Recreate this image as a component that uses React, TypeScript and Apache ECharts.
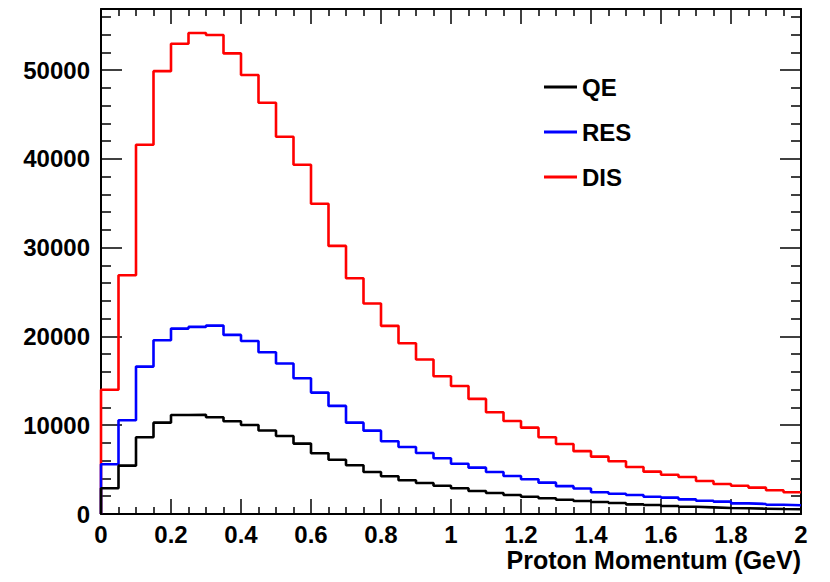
import React, { useEffect, useRef } from "react";
import * as echarts from "echarts";

// Histogram bin contents, 40 bins of 0.05 GeV from 0 to 2 GeV
const QE = [2900, 5450, 8650, 10290, 11160, 11190, 10900, 10450, 10030, 9400, 8790, 7930, 6840, 6120, 5490, 4730, 4250, 3800, 3490, 3190, 2900, 2590, 2370, 2140, 1950, 1770, 1610, 1470, 1350, 1240, 1090, 1010, 900, 820, 750, 680, 640, 600, 560, 530];
const RES = [5600, 10560, 16610, 19580, 20890, 21080, 21230, 20180, 19500, 18230, 16950, 15300, 13680, 12180, 10290, 9390, 8190, 7550, 6880, 6280, 5670, 5220, 4730, 4280, 3910, 3530, 3140, 2870, 2450, 2290, 2140, 1950, 1840, 1650, 1500, 1390, 1200, 1130, 1050, 980];
const DIS = [14000, 26900, 41600, 49900, 52990, 54190, 53970, 51900, 49460, 46340, 42500, 39350, 34950, 30210, 26570, 23710, 21200, 19240, 17400, 15520, 14430, 12970, 11460, 10480, 9730, 8650, 7890, 7080, 6460, 5940, 5300, 4770, 4430, 4170, 3720, 3380, 3190, 2970, 2670, 2450];
const X_MIN = 0;
const X_MAX = 2;
const BIN_WIDTH = 0.05;
const Y_MAX = 56900;
const X_TITLE = "Proton Momentum (GeV)";

const FONT = "'Liberation Sans', Arial, Helvetica, sans-serif";

function toSteps(values: number[]): number[][] {
  const pts: number[][] = [[X_MIN, 0]];
  values.forEach((v, i) => pts.push([+(X_MIN + i * BIN_WIDTH).toFixed(3), v]));
  pts.push([X_MAX, values[values.length - 1]]);
  return pts;
}

export default function App() {
  const ref = useRef<HTMLDivElement>(null);
  useEffect(() => {
    if (!ref.current) return;
    const chart = echarts.init(ref.current, null, { renderer: "svg" });
    const axisLine = { show: true, onZero: false, lineStyle: { color: "#000", width: 2 } };
    const labelStyle = { color: "#000", fontSize: 24, fontWeight: "bold" as const, fontFamily: FONT };
    const xBase = {
      type: "value" as const,
      min: X_MIN,
      max: X_MAX,
      interval: 0.2,
      splitLine: { show: false },
      axisLine,
      axisTick: { show: true, inside: true, length: 15, lineStyle: { color: "#000", width: 1.5 } },
      minorTick: { show: true, splitNumber: 4, length: 7, lineStyle: { color: "#000", width: 1.5 } },
    };
    const yBase = {
      type: "value" as const,
      min: 0,
      max: Y_MAX,
      interval: 10000,
      splitLine: { show: false },
      axisLine,
      axisTick: { show: true, inside: true, length: 21, lineStyle: { color: "#000", width: 1.5 } },
      minorTick: { show: true, splitNumber: 5, length: 10, lineStyle: { color: "#000", width: 1.5 } },
    };
    const mk = (name: string, data: number[], color: string, z: number) => ({
      name,
      type: "line" as const,
      step: "end" as const,
      data: toSteps(data),
      showSymbol: false,
      symbol: "none",
      color,
      z,
      lineStyle: { color, width: 2.6 },
    });
    chart.setOption({
      animation: false,
      backgroundColor: "#fff",
      grid: { left: 101, right: 29, top: 9, bottom: 68, containLabel: false },
      xAxis: [
        {
          ...xBase,
          position: "bottom",
          axisLabel: {
            ...labelStyle,
            margin: 8,
            formatter: (v: number) => String(+v.toFixed(1)),
          },
        },
        { ...xBase, position: "top", axisLabel: { show: false } },
      ],
      yAxis: [
        {
          ...yBase,
          position: "left",
          axisLabel: { ...labelStyle, margin: 11, showMaxLabel: false, formatter: (v: number) => String(v) },
        },
        { ...yBase, position: "right", axisLabel: { show: false } },
      ],
      legend: {
        orient: "vertical",
        left: 544,
        top: 75,
        padding: 0,
        icon: "rect",
        itemWidth: 33,
        itemHeight: 3,
        itemGap: 21,
        itemTextGap: 6,
        data: ["QE", "RES", "DIS"],
        textStyle: { ...labelStyle },
      },
      graphic: [
        {
          type: "text",
          right: 29,
          top: 547,
          style: { text: X_TITLE, font: `bold 25px ${FONT}`, fill: "#000" },
        },
      ],
      series: [mk("DIS", DIS, "#ff0000", 3), mk("RES", RES, "#0000ff", 4), mk("QE", QE, "#000000", 5)],
    });
    return () => chart.dispose();
  }, []);
  return (
    <div
      ref={ref}
      style={{ position: "fixed", left: 0, top: 0, width: 830, height: 582, background: "#fff" }}
    />
  );
}
